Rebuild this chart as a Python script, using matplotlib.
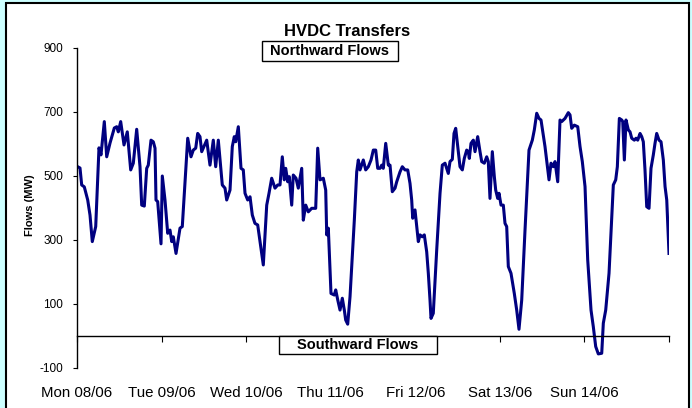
import matplotlib
matplotlib.use("Agg")
import matplotlib.pyplot as plt
from matplotlib.patches import Rectangle

plt.rcParams['font.family'] = ['Liberation Sans', 'DejaVu Sans']
plt.rcParams['axes.unicode_minus'] = False

# hours from Mon 08/06 00:00, flow in MW (positive = northward)
hours = [0.2, 0.85, 1.33, 2.07, 3.04, 3.69, 4.34, 5.31, 6.24, 6.81,
         7.75, 8.43, 9.37, 10.59, 11.27, 11.72, 12.40, 13.34, 14.27, 15.24,
         15.98, 16.94, 17.88, 18.36, 19.10, 19.78, 20.23, 21.0, 21.65, 22.14,
         22.42, 22.9, 23.84, 24.21, 24.97, 25.74, 26.39, 26.88, 27.33, 28.1,
         29.23, 29.88, 31.42, 32.35, 33.0, 33.69, 34.25, 34.9, 35.39, 36.81,
         37.74, 38.68, 39.36, 40.1, 41.23, 42.0, 42.48, 43.42, 44.07, 44.64,
         45.04, 45.78, 46.54, 47.19, 47.68, 48.44, 49.1, 49.75, 50.5, 51.28,
         52.13, 52.87, 53.84, 54.49, 55.25, 56.19, 56.96, 57.61, 58.26, 58.83,
         59.23, 59.8, 60.25, 60.93, 61.38, 62.15, 62.8, 63.77, 64.22, 64.91,
         65.64, 66.6, 67.74, 68.31, 68.96, 69.9, 70.58, 70.87, 71.32, 72.08,
         73.02, 73.42, 73.99, 74.64, 75.29, 75.86, 76.25, 76.82, 77.48, 78.7,
         79.38, 79.83, 80.31, 81.25, 81.93, 82.67, 83.44, 84.09, 84.77, 85.34,
         85.99, 86.47, 86.92, 87.61, 88.35, 88.83, 89.48, 90.25, 90.73, 91.67,
         92.32, 93.08, 93.85, 94.5, 94.98, 95.27, 95.92, 96.4, 96.86, 97.34,
         97.99, 98.56, 99.24, 99.7, 100.18, 100.46, 101.11, 102.08, 103.02, 103.67,
         104.44, 105.37, 105.85, 106.51, 106.99, 107.47, 108.04, 108.69, 109.35, 109.91,
         110.59, 111.05, 111.33, 111.81, 112.47, 112.95, 113.71, 114.37, 114.85, 115.59,
         116.27, 116.72, 117.2, 117.86, 118.43, 118.82, 119.39, 119.76, 120.33, 120.98,
         121.46, 121.94, 122.4, 123.16, 124.1, 124.78, 125.43, 126.2, 127.14, 128.27,
         129.21, 129.78, 130.46, 131.11, 131.68, 132.81, 133.95, 134.52, 135.17, 135.65,
         136.42, 137.07, 137.55, 138.49, 139.43, 139.91, 140.39, 141.13, 142.1, 142.75,
         143.4, 144.17, 144.93, 145.87, 146.52, 147.2, 147.94, 148.91, 149.36, 150.04,
         150.98, 152.2, 152.88, 153.34, 153.91, 154.59, 154.87, 155.33, 155.8, 156.46,
         156.94, 157.42, 158.16, 158.64, 159.12, 159.78, 160.26, 160.71, 161.19, 161.68,
         162.33, 162.89, 163.55, 164.03, 164.51, 165.17, 165.74, 166.39, 166.88, 167.36,
         168.0]
flows = [529, 525, 472, 466, 425, 378, 295, 342, 588, 566,
         670, 560, 603, 650, 654, 638, 670, 597, 638, 519,
         540, 646, 529, 409, 406, 524, 534, 612, 607, 587,
         425, 420, 288, 500, 425, 321, 331, 295, 310, 258,
         337, 342, 618, 560, 581, 587, 633, 623, 576, 612,
         534, 612, 529, 612, 472, 462, 425, 456, 592, 623,
         607, 654, 524, 519, 446, 425, 435, 378, 352, 347,
         279, 222, 409, 446, 493, 462, 472, 472, 560, 488,
         524, 482, 498, 409, 503, 493, 462, 524, 362, 409,
         388, 399, 399, 587, 488, 493, 456, 316, 337, 133,
         128, 144, 113, 81, 118, 81, 50, 37, 123, 362,
         513, 550, 519, 550, 519, 529, 550, 581, 581, 524,
         524, 534, 524, 602, 534, 534, 451, 462, 482, 513,
         529, 519, 519, 477, 425, 368, 394, 342, 295, 316,
         310, 316, 263, 196, 112, 55, 71, 269, 446, 534,
         540, 508, 545, 552, 633, 649, 592, 529, 519, 555,
         581, 576, 555, 602, 612, 576, 623, 576, 545, 540,
         560, 545, 430, 576, 498, 456, 430, 446, 409, 409,
         352, 342, 217, 196, 133, 81, 21, 112, 331, 581,
         612, 644, 696, 680, 675, 592, 488, 540, 529, 545,
         482, 675, 670, 680, 698, 691, 649, 659, 654, 592,
         545, 467, 238, 81, 29, -33, -56, -54, 40, 81,
         196, 472, 488, 529, 680, 675, 670, 550, 675, 644,
         638, 618, 612, 618, 612, 633, 623, 607, 519, 404,
         399, 524, 566, 602, 633, 612, 607, 550, 467, 425,
         258]

day_ticks = [0, 24, 48, 72, 96, 120, 144, 168]
day_labels = ['Mon 08/06', 'Tue 09/06', 'Wed 10/06', 'Thu 11/06',
              'Fri 12/06', 'Sat 13/06', 'Sun 14/06', '']
y_ticks = [-100, 100, 300, 500, 700, 900]

W, H = 692, 408
fig = plt.figure(figsize=(W / 100, H / 100), dpi=100)
fig.patch.set_facecolor('#CCFFFF')
frame = Rectangle((6 / W, -0.05), (689 - 6) / W, 1.05 - 3.5 / H,
                  transform=fig.transFigure, facecolor='white',
                  edgecolor='black', linewidth=1.5, zorder=-10)
fig.patches.append(frame)

ax = fig.add_axes([77 / W, 1 - 368 / H, (669 - 77) / W, (368 - 48) / H])
ax.patch.set_alpha(0)
ax.plot(hours, flows, color='#000080', linewidth=2.2)

ax.set_xlim(0, 168)
ax.set_ylim(-100, 900)
ax.spines['top'].set_visible(False)
ax.spines['right'].set_visible(False)
ax.spines['bottom'].set_position(('data', 0))
ax.spines['bottom'].set_linewidth(1.0)
ax.spines['left'].set_linewidth(1.0)

ax.set_xticks(day_ticks)
ax.set_xticklabels(day_labels, fontsize=10.8)
ax.tick_params(axis='x', direction='out', length=4, pad=32)
ax.set_yticks(y_ticks)
ax.tick_params(axis='y', direction='out', length=3, pad=7, labelsize=8.5)

fig.text(347 / W, 1 - 32 / H, 'HVDC Transfers', ha='center', va='center',
         fontsize=12, fontweight='bold')
fig.text(30 / W, 1 - 205 / H, 'Flows (MW)', ha='center', va='center',
         rotation=90, fontsize=8, fontweight='bold')

# label boxes (left, top, right, bottom in pixels)
for label, (x0, y0, x1, y1) in [('Northward Flows', (262, 41, 398, 61)),
                                 ('Southward Flows', (279, 336, 437, 354))]:
    fig.patches.append(Rectangle((x0 / W, 1 - y1 / H), (x1 - x0) / W, (y1 - y0) / H,
                                 transform=fig.transFigure, facecolor='white',
                                 edgecolor='black', linewidth=1.0, zorder=4))
    fig.text((x0 + x1) / 2 / W, 1 - (y0 + y1) / 2 / H, label, ha='center', va='center',
             fontsize=10.5, fontweight='bold', zorder=5)

fig.savefig('out.png', dpi=100, facecolor=fig.get_facecolor())
